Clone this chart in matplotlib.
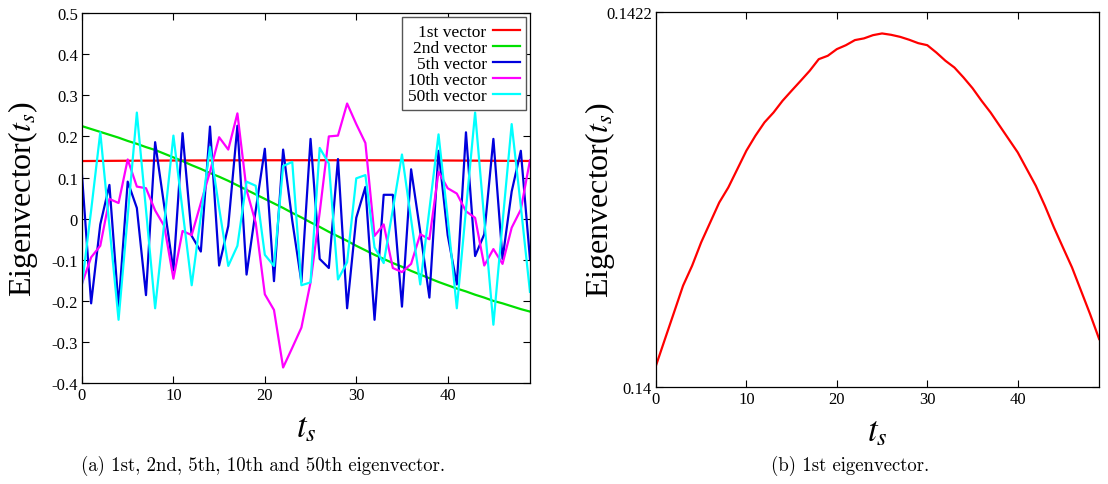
import numpy as np
import matplotlib
matplotlib.use("Agg")
import matplotlib.pyplot as plt

plt.rcParams["font.family"] = ["Liberation Serif", "DejaVu Serif"]
plt.rcParams["mathtext.fontset"] = "stix"
plt.rcParams["axes.unicode_minus"] = False

# valores (t_s = 0..49)
ts = np.arange(50)

vec1 = [0.140123, 0.140280, 0.140436, 0.140593, 0.140710, 0.140847, 0.140964,
        0.141081, 0.141169, 0.141277, 0.141385, 0.141473, 0.141551, 0.141609,
        0.141678, 0.141737, 0.141795, 0.141854, 0.141922, 0.141942, 0.141981,
        0.142004, 0.142034, 0.142044, 0.142063, 0.142073, 0.142065, 0.142053,
        0.142036, 0.142016, 0.142004, 0.141961, 0.141913, 0.141873, 0.141815,
        0.141752, 0.141678, 0.141609, 0.141531, 0.141453, 0.141375, 0.141277,
        0.141179, 0.141062, 0.140935, 0.140817, 0.140700, 0.140563, 0.140426,
        0.140280]

vec2 = [0.225, 0.218, 0.211, 0.204, 0.197, 0.189, 0.182, 0.174, 0.167, 0.158,
        0.149, 0.140, 0.130, 0.121, 0.111, 0.102, 0.092, 0.081, 0.070, 0.059,
        0.048, 0.037, 0.026, 0.014, 0.003, -0.009, -0.020, -0.032, -0.043, -0.054,
        -0.066, -0.077, -0.088, -0.098, -0.108, -0.117, -0.127, -0.136, -0.145, -0.154,
        -0.162, -0.170, -0.177, -0.185, -0.192, -0.200, -0.206, -0.213, -0.220, -0.226]

vec5 = [0.106, -0.206, -0.014, 0.082, -0.214, 0.090, 0.026, -0.186, 0.186, 0.030,
        -0.126, 0.208, -0.042, -0.080, 0.224, -0.114, -0.018, 0.226, -0.136, 0.020,
        0.170, -0.152, 0.168, -0.005, -0.154, 0.194, -0.098, -0.120, 0.145, -0.218,
        0.002, 0.077, -0.246, 0.058, 0.058, -0.214, 0.120, -0.032, -0.192, 0.165,
        -0.040, -0.160, 0.210, -0.091, -0.038, 0.194, -0.098, 0.066, 0.165, -0.098]

vec10 = [-0.158, -0.094, -0.066, 0.048, 0.038, 0.144, 0.078, 0.074, 0.020, -0.018,
         -0.146, -0.030, -0.040, 0.038, 0.114, 0.198, 0.168, 0.256, 0.070, -0.010,
         -0.184, -0.222, -0.362, -0.314, -0.265, -0.155, 0.015, 0.200, 0.202, 0.280,
         0.230, 0.184, -0.042, -0.014, -0.120, -0.130, -0.110, -0.038, -0.050, 0.114,
         0.074, 0.061, 0.018, 0.002, -0.114, -0.074, -0.110, -0.022, 0.022, 0.142]

vec50 = [-0.160, 0.020, 0.210, -0.018, -0.246, 0.006, 0.258, 0.022, -0.218, -0.010,
         0.202, 0.020, -0.162, 0.006, 0.174, 0.026, -0.115, -0.066, 0.090, 0.080,
         -0.088, -0.115, 0.128, 0.138, -0.162, -0.155, 0.172, 0.134, -0.148, -0.106,
         0.098, 0.106, -0.070, -0.108, 0.022, 0.156, -0.002, -0.160, 0.022, 0.205,
         0.002, -0.218, 0.022, 0.258, -0.002, -0.258, -0.010, 0.230, 0.030, -0.178]

series = [
    ("1st vector", vec1, "#ff0000"),
    ("2nd vector", vec2, "#00e000"),
    ("5th vector", vec5, "#0000dd"),
    ("10th vector", vec10, "#ff00ff"),
    ("50th vector", vec50, "#00ffff"),
]

fig = plt.figure(figsize=(11.08, 4.85), dpi=100)
ax1 = fig.add_axes([0.074, 0.208, 0.4043, 0.763])
ax2 = fig.add_axes([0.592, 0.2006, 0.400, 0.773])


def style_axes(ax, ypad):
    ax.tick_params(direction="in", length=5, width=0.8, top=True, right=True,
                   labelsize=12, pad=3)
    for sp in ax.spines.values():
        sp.set_linewidth(0.9)
    ax.set_xlabel("$t_s$", fontsize=25, labelpad=6)
    ax.set_ylabel("Eigenvector($t_s$)", fontsize=23, labelpad=ypad)


# --- (a) ---
for name, vals, col in series:
    ax1.plot(ts, vals, color=col, lw=1.6, label=name)
ax1.set_xlim(0, 49)
ax1.set_ylim(-0.4, 0.5)
ax1.set_xticks([0, 10, 20, 30, 40])
ax1.set_yticks(np.round(np.arange(-0.4, 0.51, 0.1), 1))
ax1.set_yticklabels(["-0.4", "-0.3", "-0.2", "-0.1", "0", "0.1", "0.2",
                     "0.3", "0.4", "0.5"])
style_axes(ax1, 8)
leg = ax1.legend(loc="upper right", bbox_to_anchor=(1.0, 1.0), fontsize=12.5,
                 markerfirst=False, handlelength=1.5, handletextpad=0.4,
                 labelspacing=0.0, borderpad=0.35, borderaxespad=0.25,
                 fancybox=False, framealpha=1)
leg.get_frame().set_edgecolor("#555555")
leg.get_frame().set_linewidth(1.0)
for t in leg.get_texts():
    t.set_ha("right")

# --- (b) ---
ax2.plot(ts, vec1, color="#ff0000", lw=1.6)
ax2.set_xlim(0, 49)
ax2.set_ylim(0.14, 0.1422)
ax2.set_xticks([0, 10, 20, 30, 40])
ax2.set_yticks([0.14, 0.1422])
ax2.set_yticklabels(["0.14", "0.1422"])
style_axes(ax2, -8)

fig.text(0.2374, 0.040, "(a) 1st, 2nd, 5th, 10th and 50th eigenvector.",
         ha="center", va="center", fontsize=13.5, family=["cmr10", "DejaVu Serif"])
fig.text(0.767, 0.040, "(b) 1st eigenvector.",
         ha="center", va="center", fontsize=13.5, family=["cmr10", "DejaVu Serif"])

fig.savefig("out.png", dpi=100)
